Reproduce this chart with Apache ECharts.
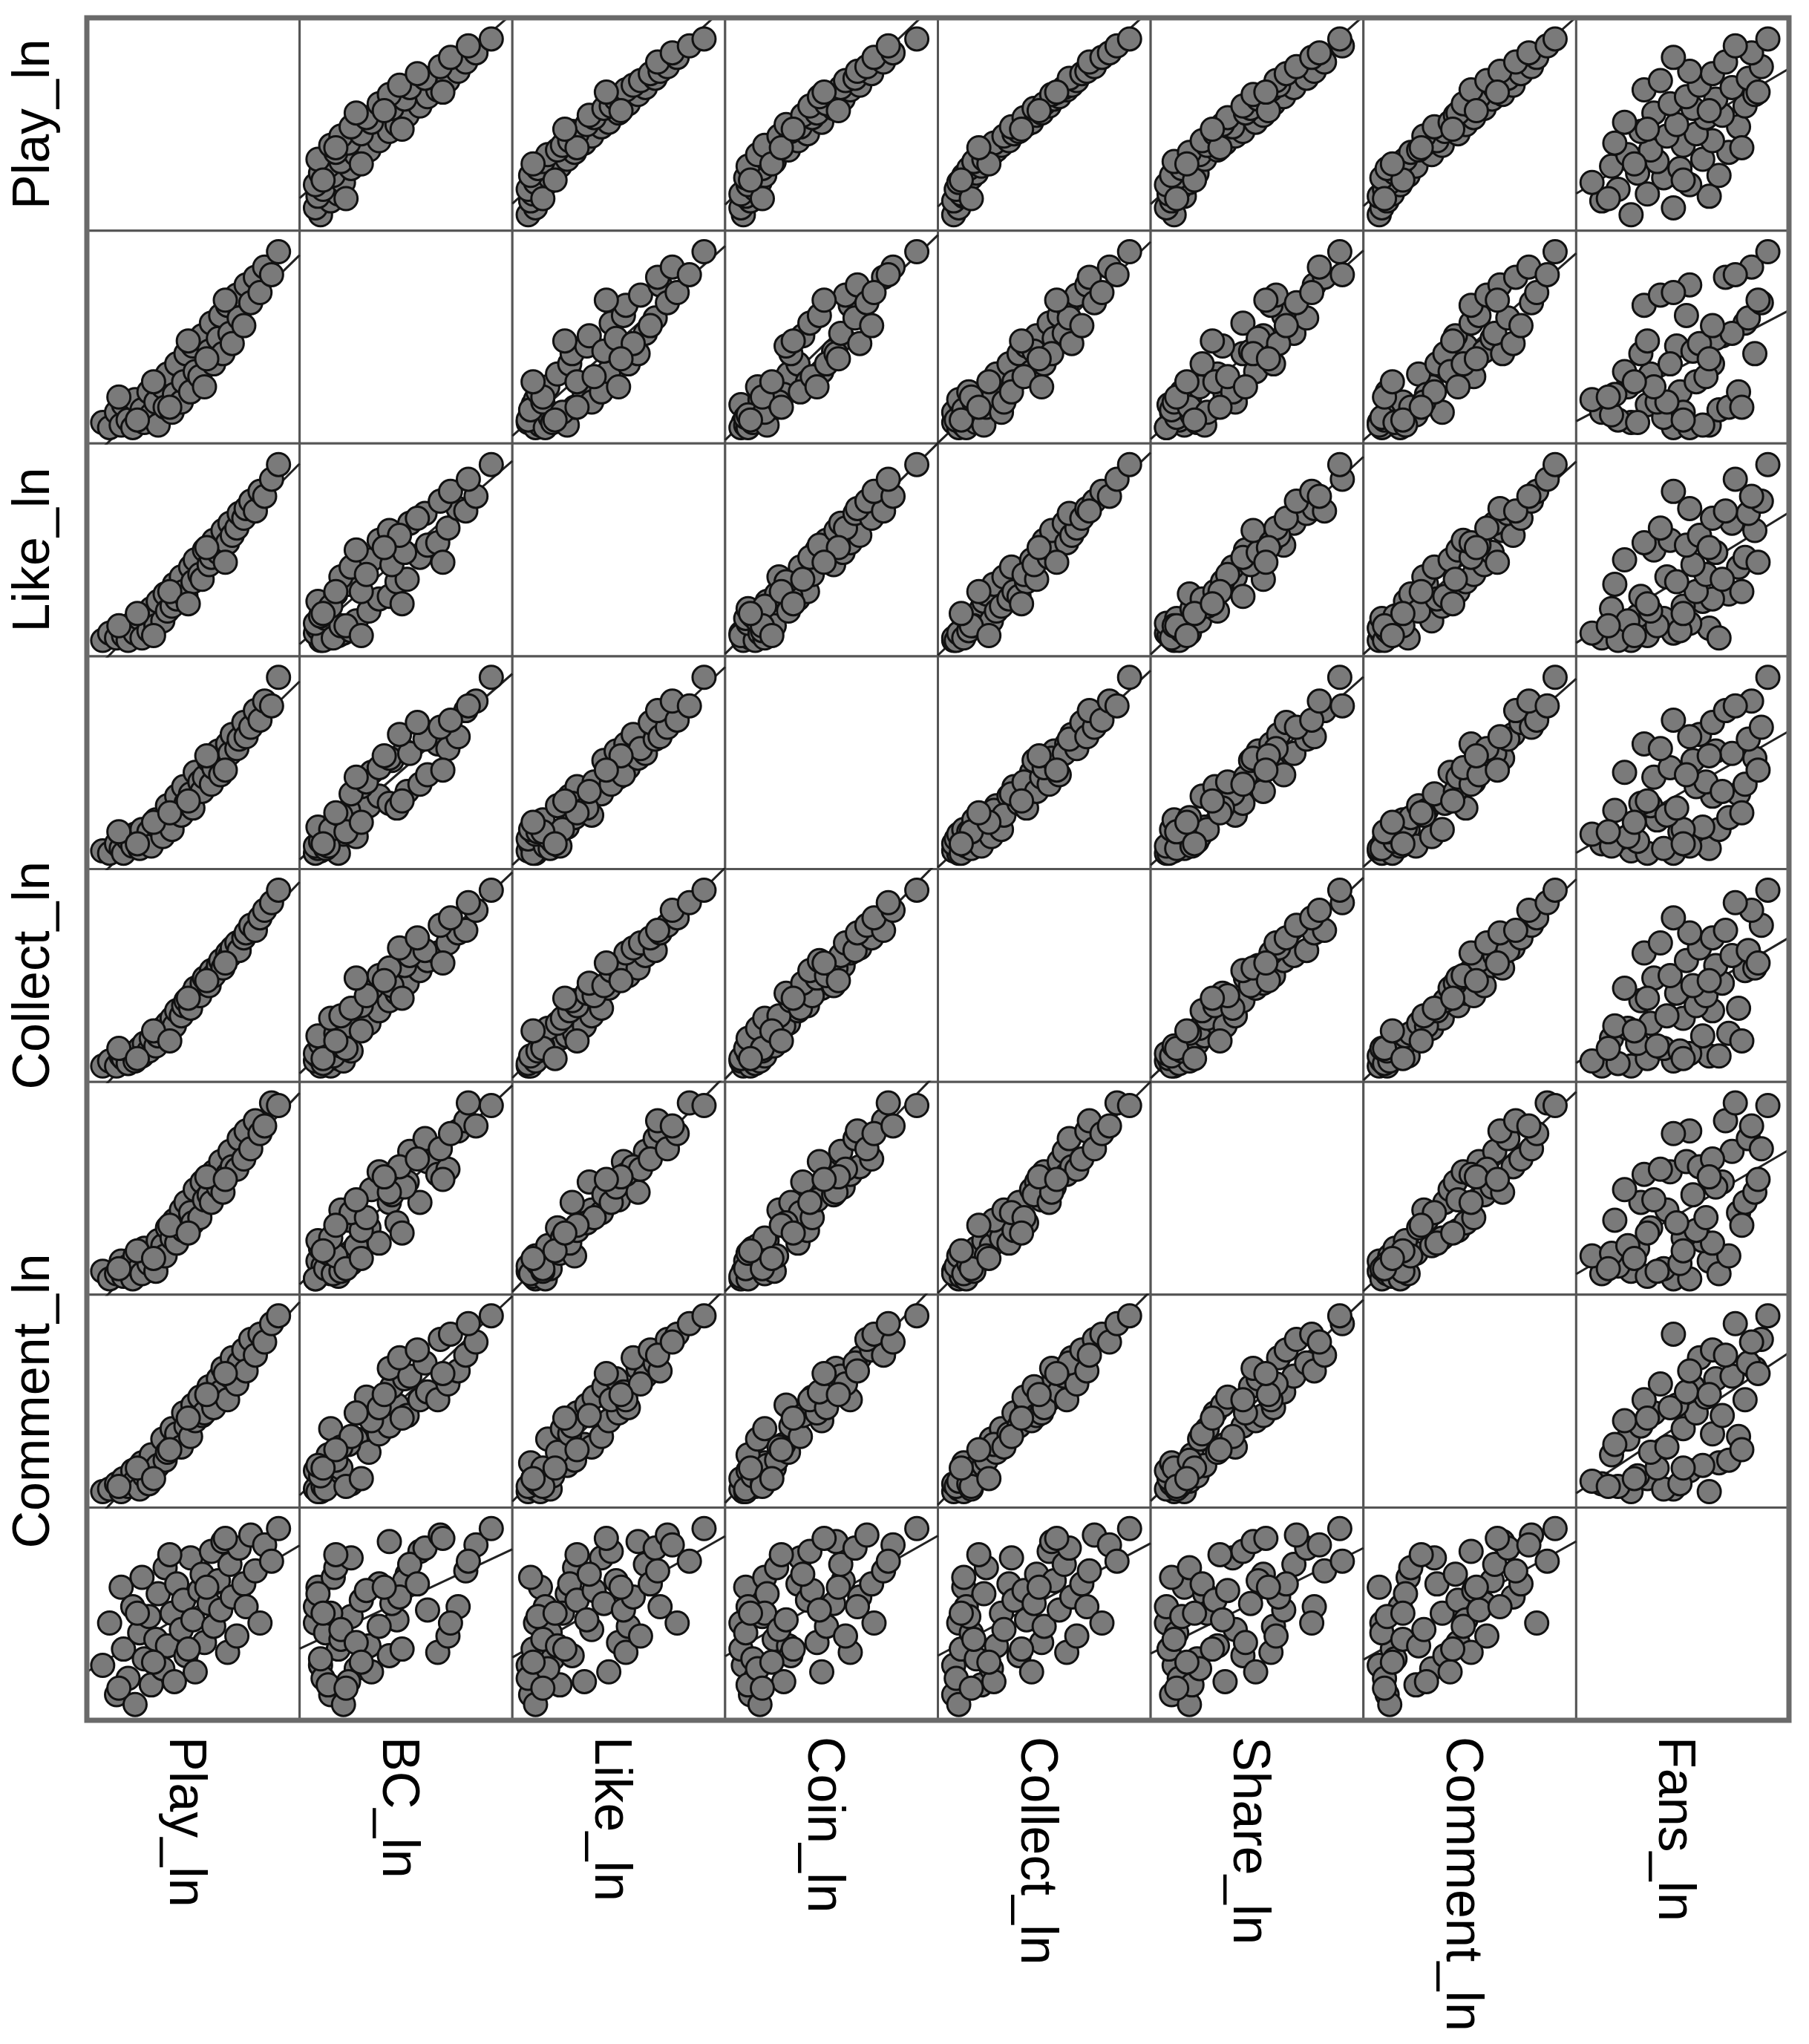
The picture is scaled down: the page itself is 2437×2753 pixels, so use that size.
<!DOCTYPE html>
<html><head><meta charset="utf-8">
<script src="https://cdn.jsdelivr.net/npm/echarts@6/dist/echarts.min.js"></script>
<style>html,body{margin:0;padding:0;background:#fff}#c{width:2437px;height:2753px}</style>
</head><body><div id="c"></div>
<script>
const varNames = ['Play_ln','BC_ln','Like_ln','Coin_ln','Collect_ln','Share_ln','Comment_ln','Fans_ln'];
const rowLabels = ['Play_ln','','Like_ln','','Collect_ln','','Comment_ln',''];
const Play = [4.3,4.6,4.9,5.1,5.2,5.4,5.6,5.7,5.9,6.0,6.1,6.3,6.4,6.6,6.7,6.9,7.0,7.1,7.3,7.4,7.5,7.7,7.8,7.9,8.1,8.2,8.3,8.5,8.6,8.7,8.9,9.0,9.1,9.3,9.4,9.5,9.7,9.8,9.9,10.1,10.2,10.4,10.5,10.7,10.9,11.1,11.3,11.6,11.9,5.0,5.8,6.5,7.2,8.0,8.8,9.6];
const BC = [0.2,0.0,0.6,0.1,0.9,0.3,0.0,1.1,0.4,0.7,0.2,1.4,0.5,1.0,0.1,1.6,0.8,2.1,0.6,1.3,2.5,1.0,1.8,2.9,1.4,3.2,2.2,2.0,3.6,1.6,3.0,4.1,2.5,3.5,4.4,2.9,4.8,3.7,3.3,5.2,4.3,4.0,5.6,4.9,5.9,5.3,6.3,6.0,6.9,1.2,0.3,1.8,0.8,3.4,2.7,5.0];
const Like = [0.0,0.3,0.1,0.5,0.2,0.0,0.7,0.3,0.9,0.1,1.0,0.4,1.3,0.6,1.6,0.8,1.9,1.2,1.4,2.3,1.7,2.6,2.0,1.8,3.0,2.4,3.3,2.7,2.5,3.7,3.1,3.4,4.1,3.6,3.9,4.5,4.0,4.8,4.3,4.6,5.2,5.0,5.4,5.7,5.3,6.1,5.9,6.6,7.2,0.6,1.1,0.2,2.0,1.5,3.8,3.2];
const Coin = [0.1,0.0,0.4,0.2,0.0,0.6,0.3,0.8,0.2,1.0,0.5,0.9,0.3,1.4,1.1,0.7,1.5,2.0,1.0,1.8,2.4,1.6,2.8,2.1,2.5,1.9,3.4,3.0,2.6,3.2,3.9,2.9,3.6,4.3,3.3,4.0,4.6,4.2,5.0,4.4,4.8,5.5,4.9,5.3,6.0,5.6,6.4,6.2,7.4,0.9,0.4,1.3,1.7,2.2,4.1,3.5];
const Collect = [0.0,0.2,0.0,0.4,0.3,0.1,0.5,0.2,0.7,0.4,0.9,0.6,1.1,0.8,1.2,1.5,1.3,1.7,1.9,1.6,2.2,2.0,2.4,2.6,2.3,2.9,3.1,2.8,3.3,3.5,3.2,3.8,3.6,4.0,4.2,3.9,4.5,4.4,4.7,4.9,4.6,5.1,5.3,5.6,5.4,5.9,6.2,6.5,7.0,0.7,0.3,1.4,1.0,2.7,3.4,4.1];
const Share = [0.3,0.0,0.2,0.7,0.1,0.5,0.0,0.9,0.4,0.2,1.2,0.6,1.0,0.3,1.5,1.3,0.9,2.0,1.6,2.3,1.4,2.7,1.9,3.0,2.6,2.2,3.5,2.4,3.8,3.1,3.3,3.0,4.2,3.6,4.6,3.4,4.1,5.0,4.4,4.3,5.5,4.7,5.8,5.1,6.2,5.7,6.0,6.9,6.8,0.4,1.1,0.8,2.1,1.8,4.0,3.9];
const Comment = [0.0,0.1,0.3,0.0,0.5,0.2,0.8,0.4,0.1,1.1,0.6,0.3,1.4,0.9,1.0,2.0,1.2,1.5,2.4,1.8,2.2,1.7,3.0,2.5,2.1,3.3,2.7,3.6,2.9,3.0,4.0,3.5,3.2,4.3,3.8,4.7,3.5,4.4,5.1,4.1,4.9,5.4,4.6,5.8,5.2,6.0,5.7,6.4,6.7,0.2,0.9,0.5,1.6,2.8,3.7,4.5];
const Fans = [4.5,5.8,3.6,6.9,5.0,4.1,6.3,3.3,5.5,7.2,4.7,6.0,3.9,5.3,6.7,4.4,7.5,5.1,6.1,4.0,7.0,5.6,6.5,4.8,7.8,5.9,4.3,6.8,7.3,5.2,6.4,8.0,5.7,7.1,6.2,8.3,4.9,7.6,6.6,5.4,8.1,7.0,6.3,8.5,7.4,5.8,8.2,7.7,8.7,3.8,6.1,4.6,7.9,5.0,6.9,8.4];
const vars = [Play,BC,Like,Coin,Collect,Share,Comment,Fans];

const L=117, T=24, S=2293/8;
const ranges = vars.map(v=>{const mn=Math.min(...v),mx=Math.max(...v),r=mx-mn;return [mn-0.09*r,mx+0.12*r];});
const grid=[],xAxis=[],yAxis=[],series=[];
let k=0;
for(let i=0;i<8;i++)for(let j=0;j<8;j++){
  grid.push({left:L+j*S,top:T+i*S,width:S,height:S,show:true,borderColor:'#555',borderWidth:3,backgroundColor:'#fff'});
  xAxis.push({type:'value',gridIndex:k,min:ranges[j][0],max:ranges[j][1],show:false});
  yAxis.push({type:'value',gridIndex:k,min:ranges[i][0],max:ranges[i][1],show:false});
  if(i!==j){
    const xs=vars[j],ys=vars[i],n=xs.length;
    const mx=xs.reduce((a,b)=>a+b)/n,my=ys.reduce((a,b)=>a+b)/n;
    let sxy=0,sxx=0;for(let t=0;t<n;t++){sxy+=(xs[t]-mx)*(ys[t]-my);sxx+=(xs[t]-mx)**2;}
    const b=sxy/sxx,a=my-b*mx;
    const x0=ranges[j][0],x1=ranges[j][1];
    series.push({type:'line',xAxisIndex:k,yAxisIndex:k,data:[[x0,a+b*x0],[x1,a+b*x1]],symbol:'none',clip:true,lineStyle:{color:'#222',width:3},z:1,silent:true});
    series.push({type:'scatter',xAxisIndex:k,yAxisIndex:k,data:xs.map((x,t)=>[x,ys[t]]),symbolSize:31,itemStyle:{color:'#7a7a7a',borderColor:'#111',borderWidth:3,opacity:1},z:2,silent:true});
  }
  k++;
}
const graphic=[{type:'rect',shape:{x:L,y:T,width:S*8,height:S*8},style:{fill:'none',stroke:'#6a6a6a',lineWidth:7},z:100}];
const F='70px "Liberation Sans", Arial, sans-serif';
rowLabels.forEach((t,i)=>{if(t)graphic.push({type:'text',x:47,y:T+(i+0.5)*S,rotation:Math.PI/2,style:{text:t,font:F,fill:'#000',align:'center',verticalAlign:'middle'}});});
varNames.forEach((t,j)=>{graphic.push({type:'text',x:L+(j+0.5)*S-12,y:T+8*S+22,rotation:-Math.PI/2,style:{text:t,font:F,fill:'#000',align:'left',verticalAlign:'middle'}});});
const chart=echarts.init(document.getElementById('c'));
chart.setOption({animation:false,backgroundColor:'#fff',grid,xAxis,yAxis,series,graphic});
</script></body></html>
